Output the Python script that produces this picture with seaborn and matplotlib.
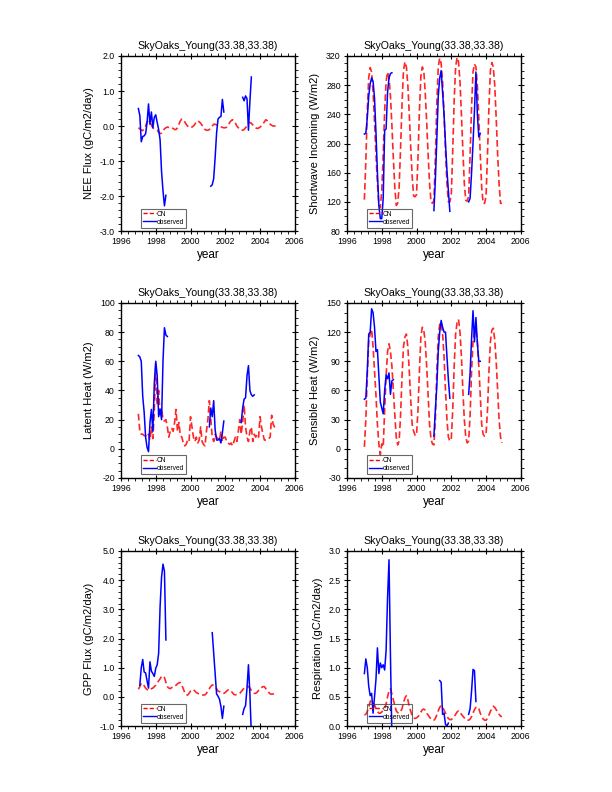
import matplotlib
matplotlib.use("Agg")
import matplotlib.pyplot as plt
import matplotlib.ticker as ticker
from matplotlib.lines import Line2D
import numpy as np
import pandas as pd
import seaborn as sns

plt.rcParams['font.family'] = ['Liberation Sans', 'DejaVu Sans']

#%% DATOS (mensuales, ene 1997 - dic 2004)
meses = 1997 + np.arange(96) / 12
titulo = "SkyOaks_Young(33.38,33.38)"

# NEE
nee_cn = [-0.05, -0.08, -0.12, -0.13, -0.08, 0.0, 0.12, 0.15, 0.1, 0.02, -0.05, -0.08,
          -0.1, -0.12, -0.18, -0.22, -0.2, -0.15, -0.08, -0.05, -0.03, -0.04, -0.03, -0.05,
          -0.07, -0.1, -0.1, -0.05, 0.05, 0.15, 0.2, 0.18, 0.12, 0.05, 0.0, -0.03,
          -0.05, -0.03, 0.0, 0.05, 0.12, 0.15, 0.12, 0.08, 0.02, -0.05, -0.1, -0.12,
          -0.12, -0.1, -0.05, 0.0, 0.05, 0.05, 0.03, 0.02, 0.0, -0.02, -0.04, -0.05,
          -0.05, -0.03, 0.02, 0.1, 0.15, 0.18, 0.15, 0.08, 0.0, -0.05, -0.1, -0.12,
          -0.12, -0.1, -0.05, 0.0, 0.08, 0.1, 0.08, 0.03, -0.02, -0.05, -0.07, -0.06,
          -0.03, 0.0, 0.05, 0.12, 0.18, 0.15, 0.1, 0.05, 0.02, 0.0, 0.0, 0.0]
nee_obs = [[0.5, 0.3, -0.45, -0.3, -0.28, -0.22, 0.1, 0.63, 0.05, 0.4, -0.05, 0.25,
            0.32, 0.1, -0.1, -0.4, -1.3, -1.85, -2.28, -1.98],
           [-1.72, -1.68, -1.5, -0.9, -0.2, 0.2, 0.25, 0.27, 0.76, 0.4],
           [0.82, 0.72, 0.86, 0.78, -0.12, 0.7, 1.4]]
nee_ini = [0, 50, 72]

# Shortwave
sw_cn = [123, 175, 245, 290, 304, 298, 270, 230, 185, 145, 115, 112,
         135, 185, 245, 285, 298, 290, 265, 225, 180, 140, 115, 118,
         140, 195, 255, 300, 312, 305, 280, 240, 195, 155, 128, 127,
         130, 180, 245, 292, 305, 300, 270, 230, 185, 145, 120, 118,
         122, 180, 255, 305, 317, 310, 285, 240, 190, 145, 120, 120,
         130, 190, 260, 305, 318, 312, 285, 240, 190, 145, 122, 121,
         128, 185, 250, 298, 309, 305, 280, 235, 185, 140, 118, 118,
         128, 185, 250, 300, 311, 305, 280, 235, 185, 145, 118, 118]
sw_obs = [[213, 214, 235, 265, 282, 290, 285, 262, 215, 160, 115, 97,
           97, 125, 218, 220, 270, 290, 296, 297],
          [108, 150, 205, 265, 290, 300, 270, 240, 200, 163, 135, 107],
          [120, 125, 160, 200, 245, 298, 240, 209, 214]]
sw_ini = [0, 48, 72]

# Latent heat
lh_cn = [24, 12, 10, 10, 9, 9, 8, 10, 6, 15, 7, 25,
         58, 30, 40, 22, 28, 20, 19, 20, 15, 8, 12, 14,
         12, 18, 27, 12, 18, 9, 8, 4, 2, 3, 6, 5,
         22, 15, 8, 5, 8, 4, 6, 15, 5, 3, 2, 12,
         20, 33, 20, 8, 5, 10, 8, 7, 6, 12, 5, 8,
         8, 5, 4, 3, 4, 2, 5, 8, 5, 12, 20, 10,
         18, 30, 15, 8, 5, 12, 15, 5, 10, 8, 10, 8,
         22, 15, 10, 6, 6, 6, 7, 8, 23, 17, 15, 14]
lh_obs = [[64, 63, 60, 36, 25, 8, 1, -2, 18, 27, 12, 45, 60, 50, 22, 27, 20, 60, 83, 78, 77],
          [15, 28, 22, 33, 13, 6, 6, 7, 4, 11, 19],
          [18, 28, 34, 35, 50, 57, 40, 37, 36, 37]]
lh_ini = [0, 49, 71]

# Sensible heat
sh_cn = [2, 30, 75, 110, 118, 123, 105, 80, 55, 25, 5, -6,
         5, 2, 40, 75, 100, 108, 100, 85, 60, 35, 12, 4,
         8, 35, 75, 105, 115, 118, 105, 80, 50, 25, 18, 14,
         14, 40, 80, 115, 125, 122, 110, 85, 55, 25, 10, 5,
         4, 30, 80, 115, 128, 130, 118, 95, 60, 30, 12, 8,
         10, 40, 85, 118, 130, 133, 120, 95, 60, 30, 12, 6,
         8, 35, 80, 110, 120, 123, 110, 85, 55, 25, 15, 13,
         15, 40, 80, 110, 122, 124, 112, 90, 60, 30, 12, 6]
sh_obs = [[51, 52, 80, 118, 120, 144, 140, 125, 100, 102, 75, 48, 42, 36, 60, 76, 72, 78, 56, 70, 71],
          [13, 40, 64, 100, 120, 132, 125, 120, 120, 95, 71, 52],
          [56, 78, 113, 142, 110, 135, 109, 90, 90]]
sh_ini = [0, 48, 72]

# GPP
gpp_cn = [0.26, 0.35, 0.47, 0.45, 0.38, 0.3, 0.25, 0.22, 0.24, 0.28, 0.3, 0.35,
          0.4, 0.48, 0.55, 0.62, 0.7, 0.72, 0.66, 0.5, 0.35, 0.3, 0.28, 0.32,
          0.32, 0.35, 0.4, 0.45, 0.48, 0.49, 0.4, 0.28, 0.15, 0.07, 0.06, 0.12,
          0.2, 0.24, 0.25, 0.2, 0.15, 0.12, 0.1, 0.08, 0.07, 0.06, 0.07, 0.12,
          0.2, 0.28, 0.36, 0.41, 0.4, 0.35, 0.28, 0.2, 0.18, 0.14, 0.12, 0.12,
          0.15, 0.2, 0.24, 0.24, 0.2, 0.14, 0.08, 0.07, 0.08, 0.1, 0.12, 0.18,
          0.24, 0.3, 0.32, 0.35, 0.35, 0.3, 0.22, 0.15, 0.12, 0.12, 0.16, 0.22,
          0.28, 0.32, 0.35, 0.35, 0.28, 0.22, 0.15, 0.1, 0.09, 0.1, 0.12, 0.13]
gpp_obs = [[0.4, 1.0, 1.28, 0.85, 0.82, 0.55, 0.3, 1.2, 0.88, 0.8, 0.7, 0.98,
            1.1, 1.5, 3.1, 4.1, 4.55, 4.3, 1.95],
           [2.2, 1.5, 0.8, 0.1, 0.02, -0.08, -0.33, -0.74, -0.32],
           [-0.6, -0.4, -0.3, 0.3, 1.1, 0.1, -1.3]]
gpp_ini = [1, 51, 72]

# Respiracion
resp_cn = [0.19, 0.2, 0.25, 0.32, 0.42, 0.44, 0.4, 0.36, 0.3, 0.25, 0.22, 0.22,
           0.24, 0.27, 0.3, 0.38, 0.5, 0.6, 0.64, 0.55, 0.45, 0.35, 0.26, 0.23,
           0.22, 0.25, 0.3, 0.4, 0.48, 0.52, 0.45, 0.33, 0.25, 0.18, 0.14, 0.13,
           0.14, 0.16, 0.19, 0.24, 0.28, 0.29, 0.27, 0.22, 0.19, 0.15, 0.12, 0.1,
           0.1, 0.13, 0.19, 0.26, 0.32, 0.35, 0.33, 0.27, 0.22, 0.17, 0.13, 0.11,
           0.11, 0.13, 0.16, 0.2, 0.24, 0.26, 0.25, 0.2, 0.17, 0.14, 0.11, 0.1,
           0.1, 0.12, 0.16, 0.22, 0.28, 0.32, 0.33, 0.3, 0.22, 0.16, 0.12, 0.1,
           0.1, 0.13, 0.19, 0.25, 0.3, 0.34, 0.32, 0.28, 0.24, 0.2, 0.17, 0.16]
resp_obs = [[0.9, 1.15, 1.0, 0.68, 0.52, 0.56, 0.22, 0.5, 0.8, 1.34, 0.9, 1.08,
             1.0, 1.05, 0.96, 1.3, 2.2, 2.85, 1.2, -0.2],
            [0.78, 0.75, 0.2, 0.22, 0.03, 0.0, 0.05],
            [0.2, 0.3, 0.6, 0.97, 0.95, 0.42]]
resp_ini = [0, 52, 72]


def armar_obs(tramos, inicios):
    filas = []
    for k, (ini, vals) in enumerate(zip(inicios, tramos)):
        for j, v in enumerate(vals):
            filas.append({'year': meses[ini + j], 'valor': v, 'tramo': k})
    return pd.DataFrame(filas)


#%% GRAFICO
paneles = [
    (nee_cn, nee_obs, nee_ini, "NEE Flux (gC/m2/day)", (-3, 2), 1.0, 5, "%.1f"),
    (sw_cn, sw_obs, sw_ini, "Shortwave Incoming (W/m2)", (80, 320), 40, 4, "%d"),
    (lh_cn, lh_obs, lh_ini, "Latent Heat (W/m2)", (-20, 100), 20, 4, "%d"),
    (sh_cn, sh_obs, sh_ini, "Sensible Heat (W/m2)", (-30, 150), 30, 3, "%d"),
    (gpp_cn, gpp_obs, gpp_ini, "GPP Flux (gC/m2/day)", (-1, 5), 1.0, 5, "%.1f"),
    (resp_cn, resp_obs, resp_ini, "Respiration (gC/m2/day)", (0, 3), 0.5, 5, "%.1f"),
]

izq = [0.1977, 0.567]
abajo = [0.7083, 0.3965, 0.0833]
ancho, alto = 0.284, 0.221

fig = plt.figure(figsize=(6.12, 7.92), dpi=100)

for i, (cn, obs, ini, etiqueta, lim, paso, nmin, fmt) in enumerate(paneles):
    ax = fig.add_axes([izq[i % 2], abajo[i // 2], ancho, alto])

    sns.lineplot(x=meses, y=cn, ax=ax, color="red", linewidth=1.2,
                 linestyle=(0, (4, 2)), alpha=0.85)
    df_obs = armar_obs(obs, ini)
    sns.lineplot(data=df_obs, x='year', y='valor', units='tramo', estimator=None,
                 ax=ax, color="blue", linewidth=1.1)

    ax.set_xlim(1996, 2006)
    ax.set_ylim(*lim)
    ax.set_xticks(range(1996, 2007, 2))
    ax.xaxis.set_minor_locator(ticker.AutoMinorLocator(5))
    ax.yaxis.set_major_locator(ticker.MultipleLocator(paso))
    ax.yaxis.set_minor_locator(ticker.AutoMinorLocator(nmin))
    ax.yaxis.set_major_formatter(ticker.FormatStrFormatter(fmt))

    ax.tick_params(which='major', direction='inout', length=5, width=0.8,
                   top=True, right=True, labelsize=6.3, pad=2)
    ax.tick_params(which='minor', direction='out', length=2.5, width=0.6,
                   top=True, right=True)
    for sp in ax.spines.values():
        sp.set_linewidth(1.0)

    ax.set_title(titulo, fontsize=7.6, pad=5)
    ax.set_xlabel("year", fontsize=8.5, labelpad=2)
    ax.set_ylabel(etiqueta, fontsize=8, labelpad=4)

    manijas = [Line2D([], [], color="red", linestyle=(0, (3, 1.5)), linewidth=1.0),
               Line2D([], [], color="blue", linewidth=1.0)]
    leg = ax.legend(handles=manijas, labels=["CN", "observed"], loc="lower left",
                    bbox_to_anchor=(0.115, 0.02), fontsize=4.8, frameon=True,
                    fancybox=False, edgecolor="#444444", facecolor="none",
                    borderpad=0.3, labelspacing=0.15, handlelength=1.9,
                    handletextpad=0.1, borderaxespad=0)
    leg.get_frame().set_linewidth(0.8)

plt.savefig("out.png", dpi=100)
